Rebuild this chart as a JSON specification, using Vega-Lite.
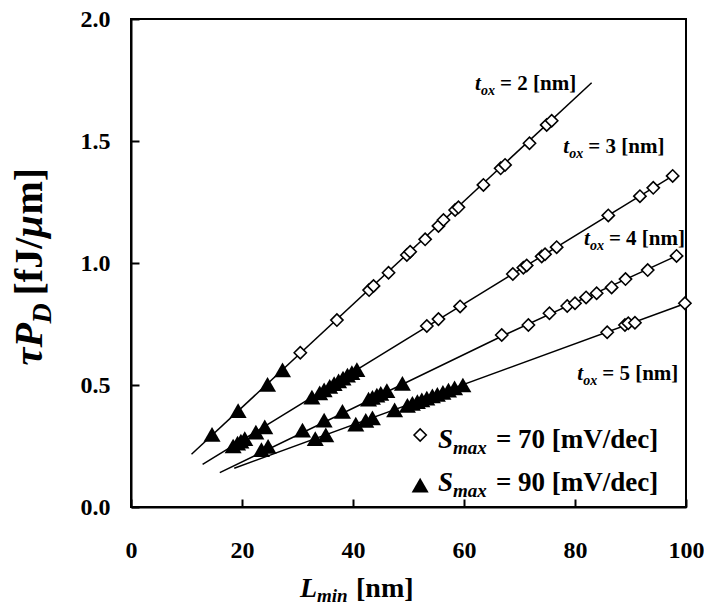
{
  "$schema": "https://vega.github.io/schema/vega-lite/v6.json",
  "width": 555,
  "height": 488,
  "autosize": {"type": "none"},
  "padding": {"left": 131, "top": 19, "right": 18, "bottom": 106},
  "background": "white",
  "config": {"view": {"stroke": "black", "strokeWidth": 2}, "font": "Liberation Serif"},
  "datasets": {
    "points": [
      {"tox": 2, "S": 70, "L": 30.5, "E": 0.632}, {"tox": 2, "S": 70, "L": 37.1, "E": 0.766},
      {"tox": 2, "S": 70, "L": 42.9, "E": 0.889}, {"tox": 2, "S": 70, "L": 43.7, "E": 0.906},
      {"tox": 2, "S": 70, "L": 46.4, "E": 0.960}, {"tox": 2, "S": 70, "L": 49.7, "E": 1.033},
      {"tox": 2, "S": 70, "L": 50.3, "E": 1.046}, {"tox": 2, "S": 70, "L": 53.0, "E": 1.097},
      {"tox": 2, "S": 70, "L": 55.4, "E": 1.152}, {"tox": 2, "S": 70, "L": 56.3, "E": 1.176},
      {"tox": 2, "S": 70, "L": 58.4, "E": 1.217}, {"tox": 2, "S": 70, "L": 59.0, "E": 1.228},
      {"tox": 2, "S": 70, "L": 63.5, "E": 1.320}, {"tox": 2, "S": 70, "L": 66.6, "E": 1.388},
      {"tox": 2, "S": 70, "L": 67.4, "E": 1.402}, {"tox": 2, "S": 70, "L": 71.8, "E": 1.491},
      {"tox": 2, "S": 70, "L": 74.9, "E": 1.566}, {"tox": 2, "S": 70, "L": 75.8, "E": 1.583},
      {"tox": 2, "S": 90, "L": 14.6, "E": 0.298}, {"tox": 2, "S": 90, "L": 19.3, "E": 0.395},
      {"tox": 2, "S": 90, "L": 24.6, "E": 0.503}, {"tox": 2, "S": 90, "L": 27.3, "E": 0.562},
      {"tox": 3, "S": 90, "L": 18.4, "E": 0.250}, {"tox": 3, "S": 90, "L": 19.2, "E": 0.262},
      {"tox": 3, "S": 90, "L": 19.8, "E": 0.270}, {"tox": 3, "S": 90, "L": 20.5, "E": 0.280},
      {"tox": 3, "S": 90, "L": 22.5, "E": 0.307}, {"tox": 3, "S": 90, "L": 24.1, "E": 0.328},
      {"tox": 3, "S": 90, "L": 32.6, "E": 0.450}, {"tox": 3, "S": 90, "L": 34.0, "E": 0.468},
      {"tox": 3, "S": 90, "L": 34.8, "E": 0.480}, {"tox": 3, "S": 90, "L": 35.8, "E": 0.494},
      {"tox": 3, "S": 90, "L": 36.6, "E": 0.506}, {"tox": 3, "S": 90, "L": 37.4, "E": 0.517},
      {"tox": 3, "S": 90, "L": 38.2, "E": 0.528}, {"tox": 3, "S": 90, "L": 39.0, "E": 0.540},
      {"tox": 3, "S": 90, "L": 39.8, "E": 0.551}, {"tox": 3, "S": 90, "L": 40.7, "E": 0.563},
      {"tox": 3, "S": 70, "L": 53.3, "E": 0.742}, {"tox": 3, "S": 70, "L": 55.4, "E": 0.770},
      {"tox": 3, "S": 70, "L": 59.3, "E": 0.822}, {"tox": 3, "S": 70, "L": 68.8, "E": 0.955},
      {"tox": 3, "S": 70, "L": 70.7, "E": 0.981}, {"tox": 3, "S": 70, "L": 71.3, "E": 0.990},
      {"tox": 3, "S": 70, "L": 74.0, "E": 1.027}, {"tox": 3, "S": 70, "L": 74.6, "E": 1.036},
      {"tox": 3, "S": 70, "L": 76.7, "E": 1.065}, {"tox": 3, "S": 70, "L": 86.0, "E": 1.195},
      {"tox": 3, "S": 70, "L": 91.7, "E": 1.274}, {"tox": 3, "S": 70, "L": 94.1, "E": 1.308},
      {"tox": 3, "S": 70, "L": 97.6, "E": 1.357},
      {"tox": 4, "S": 90, "L": 23.5, "E": 0.235}, {"tox": 4, "S": 90, "L": 24.7, "E": 0.248},
      {"tox": 4, "S": 90, "L": 30.9, "E": 0.315}, {"tox": 4, "S": 90, "L": 34.8, "E": 0.356},
      {"tox": 4, "S": 90, "L": 38.1, "E": 0.392}, {"tox": 4, "S": 90, "L": 42.8, "E": 0.442},
      {"tox": 4, "S": 90, "L": 43.5, "E": 0.449}, {"tox": 4, "S": 90, "L": 44.3, "E": 0.458},
      {"tox": 4, "S": 90, "L": 45.0, "E": 0.466}, {"tox": 4, "S": 90, "L": 46.1, "E": 0.477},
      {"tox": 4, "S": 90, "L": 48.9, "E": 0.507},
      {"tox": 4, "S": 70, "L": 66.8, "E": 0.705}, {"tox": 4, "S": 70, "L": 71.6, "E": 0.746},
      {"tox": 4, "S": 70, "L": 75.4, "E": 0.794}, {"tox": 4, "S": 70, "L": 78.6, "E": 0.824},
      {"tox": 4, "S": 70, "L": 80.0, "E": 0.835}, {"tox": 4, "S": 70, "L": 82.0, "E": 0.859},
      {"tox": 4, "S": 70, "L": 83.9, "E": 0.876}, {"tox": 4, "S": 70, "L": 86.6, "E": 0.900},
      {"tox": 4, "S": 70, "L": 89.1, "E": 0.934}, {"tox": 4, "S": 70, "L": 93.1, "E": 0.971},
      {"tox": 4, "S": 70, "L": 98.3, "E": 1.029},
      {"tox": 5, "S": 90, "L": 33.2, "E": 0.280}, {"tox": 5, "S": 90, "L": 35.1, "E": 0.296},
      {"tox": 5, "S": 90, "L": 40.5, "E": 0.340}, {"tox": 5, "S": 90, "L": 42.3, "E": 0.355},
      {"tox": 5, "S": 90, "L": 43.5, "E": 0.365}, {"tox": 5, "S": 90, "L": 47.5, "E": 0.398},
      {"tox": 5, "S": 90, "L": 49.8, "E": 0.417}, {"tox": 5, "S": 90, "L": 50.7, "E": 0.425},
      {"tox": 5, "S": 90, "L": 51.6, "E": 0.432}, {"tox": 5, "S": 90, "L": 52.4, "E": 0.439},
      {"tox": 5, "S": 90, "L": 53.3, "E": 0.446}, {"tox": 5, "S": 90, "L": 54.3, "E": 0.455},
      {"tox": 5, "S": 90, "L": 55.2, "E": 0.462}, {"tox": 5, "S": 90, "L": 56.2, "E": 0.470},
      {"tox": 5, "S": 90, "L": 57.2, "E": 0.479}, {"tox": 5, "S": 90, "L": 58.3, "E": 0.488},
      {"tox": 5, "S": 90, "L": 59.8, "E": 0.500},
      {"tox": 5, "S": 70, "L": 85.8, "E": 0.716}, {"tox": 5, "S": 70, "L": 89.0, "E": 0.746},
      {"tox": 5, "S": 70, "L": 89.6, "E": 0.753}, {"tox": 5, "S": 70, "L": 90.8, "E": 0.755},
      {"tox": 5, "S": 70, "L": 99.8, "E": 0.835}
    ],
    "fits": [
      {"tox": 2, "L": 10.9, "E": 0.216}, {"tox": 2, "L": 83.0, "E": 1.739},
      {"tox": 3, "L": 12.9, "E": 0.175}, {"tox": 3, "L": 97.6, "E": 1.357},
      {"tox": 4, "L": 16.0, "E": 0.141}, {"tox": 4, "L": 66.8, "E": 0.700}, {"tox": 4, "L": 98.3, "E": 1.029},
      {"tox": 5, "L": 18.6, "E": 0.159}, {"tox": 5, "L": 100, "E": 0.835}
    ]
  },
  "layer": [
    {
      "data": {"name": "fits"},
      "mark": {"type": "line", "color": "black", "strokeWidth": 1.5},
      "encoding": {
        "x": {"field": "L", "type": "quantitative", "scale": {"domain": [0, 100], "nice": false, "zero": false},
          "axis": {"title": null, "values": [0, 20, 40, 60, 80, 100], "grid": false, "domainColor": "black", "domainWidth": 2,
            "tickSize": -8, "tickColor": "black", "tickWidth": 2, "labelFont": "Liberation Serif", "labelFontWeight": "bold",
            "labelFontSize": 24, "labelColor": "black", "labelPadding": 39, "labelFlush": false}},
        "y": {"field": "E", "type": "quantitative", "scale": {"domain": [0, 2], "nice": false, "zero": false},
          "axis": {"title": null, "values": [0, 0.5, 1, 1.5, 2], "format": ".1f", "grid": false, "domainColor": "black", "domainWidth": 2,
            "tickSize": -8, "tickColor": "black", "tickWidth": 2, "labelFont": "Liberation Serif", "labelFontWeight": "bold",
            "labelFontSize": 24, "labelColor": "black", "labelPadding": 29, "labelFlush": false}},
        "detail": {"field": "tox", "type": "nominal"}
      }
    },
    {
      "data": {"name": "points"},
      "transform": [{"filter": "datum.S == 70"}],
      "mark": {"type": "point", "shape": "diamond", "filled": true, "fill": "white", "stroke": "black", "strokeWidth": 1.6, "size": 150, "opacity": 1},
      "encoding": {
        "x": {"field": "L", "type": "quantitative", "scale": {"domain": [0, 100], "nice": false, "zero": false}},
        "y": {"field": "E", "type": "quantitative", "scale": {"domain": [0, 2], "nice": false, "zero": false}}
      }
    },
    {
      "data": {"name": "points"},
      "transform": [{"filter": "datum.S == 90"}],
      "mark": {"type": "point", "shape": "triangle-up", "filled": true, "color": "black", "size": 290, "opacity": 1},
      "encoding": {
        "x": {"field": "L", "type": "quantitative", "scale": {"domain": [0, 100], "nice": false, "zero": false}},
        "y": {"field": "E", "type": "quantitative", "scale": {"domain": [0, 2], "nice": false, "zero": false}}
      }
    },
    {"data": {"values": [{}]}, "mark": {"type": "text", "text": "t", "fontStyle": "italic", "fontWeight": "bold", "fontSize": 21, "align": "left", "baseline": "alphabetic", "color": "black"},
     "encoding": {"x": {"datum": 62.0, "type": "quantitative"}, "y": {"datum": 1.709, "type": "quantitative"}}},
    {"data": {"values": [{}]}, "mark": {"type": "text", "text": "ox", "fontStyle": "italic", "fontWeight": "bold", "fontSize": 14, "align": "left", "baseline": "alphabetic", "dx": 6, "dy": 5, "color": "black"},
     "encoding": {"x": {"datum": 62.0, "type": "quantitative"}, "y": {"datum": 1.709, "type": "quantitative"}}},
    {"data": {"values": [{}]}, "mark": {"type": "text", "text": "= 2 [nm]", "fontWeight": "bold", "fontSize": 21, "align": "left", "baseline": "alphabetic", "dx": 25, "color": "black"},
     "encoding": {"x": {"datum": 62.0, "type": "quantitative"}, "y": {"datum": 1.709, "type": "quantitative"}}},
    {"data": {"values": [{}]}, "mark": {"type": "text", "text": "t", "fontStyle": "italic", "fontWeight": "bold", "fontSize": 21, "align": "left", "baseline": "alphabetic", "color": "black"},
     "encoding": {"x": {"datum": 77.9, "type": "quantitative"}, "y": {"datum": 1.45, "type": "quantitative"}}},
    {"data": {"values": [{}]}, "mark": {"type": "text", "text": "ox", "fontStyle": "italic", "fontWeight": "bold", "fontSize": 14, "align": "left", "baseline": "alphabetic", "dx": 6, "dy": 5, "color": "black"},
     "encoding": {"x": {"datum": 77.9, "type": "quantitative"}, "y": {"datum": 1.45, "type": "quantitative"}}},
    {"data": {"values": [{}]}, "mark": {"type": "text", "text": "= 3 [nm]", "fontWeight": "bold", "fontSize": 21, "align": "left", "baseline": "alphabetic", "dx": 25, "color": "black"},
     "encoding": {"x": {"datum": 77.9, "type": "quantitative"}, "y": {"datum": 1.45, "type": "quantitative"}}},
    {"data": {"values": [{}]}, "mark": {"type": "text", "text": "t", "fontStyle": "italic", "fontWeight": "bold", "fontSize": 21, "align": "left", "baseline": "alphabetic", "color": "black"},
     "encoding": {"x": {"datum": 81.6, "type": "quantitative"}, "y": {"datum": 1.074, "type": "quantitative"}}},
    {"data": {"values": [{}]}, "mark": {"type": "text", "text": "ox", "fontStyle": "italic", "fontWeight": "bold", "fontSize": 14, "align": "left", "baseline": "alphabetic", "dx": 6, "dy": 5, "color": "black"},
     "encoding": {"x": {"datum": 81.6, "type": "quantitative"}, "y": {"datum": 1.074, "type": "quantitative"}}},
    {"data": {"values": [{}]}, "mark": {"type": "text", "text": "= 4 [nm]", "fontWeight": "bold", "fontSize": 21, "align": "left", "baseline": "alphabetic", "dx": 25, "color": "black"},
     "encoding": {"x": {"datum": 81.6, "type": "quantitative"}, "y": {"datum": 1.074, "type": "quantitative"}}},
    {"data": {"values": [{}]}, "mark": {"type": "text", "text": "t", "fontStyle": "italic", "fontWeight": "bold", "fontSize": 21, "align": "left", "baseline": "alphabetic", "color": "black"},
     "encoding": {"x": {"datum": 80.4, "type": "quantitative"}, "y": {"datum": 0.52, "type": "quantitative"}}},
    {"data": {"values": [{}]}, "mark": {"type": "text", "text": "ox", "fontStyle": "italic", "fontWeight": "bold", "fontSize": 14, "align": "left", "baseline": "alphabetic", "dx": 6, "dy": 5, "color": "black"},
     "encoding": {"x": {"datum": 80.4, "type": "quantitative"}, "y": {"datum": 0.52, "type": "quantitative"}}},
    {"data": {"values": [{}]}, "mark": {"type": "text", "text": "= 5 [nm]", "fontWeight": "bold", "fontSize": 21, "align": "left", "baseline": "alphabetic", "dx": 25, "color": "black"},
     "encoding": {"x": {"datum": 80.4, "type": "quantitative"}, "y": {"datum": 0.52, "type": "quantitative"}}},
    {"data": {"values": [{}]}, "mark": {"type": "point", "shape": "diamond", "filled": true, "fill": "white", "stroke": "black", "strokeWidth": 1.6, "size": 150, "opacity": 1},
     "encoding": {"x": {"datum": 52.1, "type": "quantitative"}, "y": {"datum": 0.295, "type": "quantitative"}}},
    {"data": {"values": [{}]}, "mark": {"type": "point", "shape": "triangle-up", "filled": true, "color": "black", "size": 290, "opacity": 1},
     "encoding": {"x": {"datum": 52.1, "type": "quantitative"}, "y": {"datum": 0.09, "type": "quantitative"}}},
    {"data": {"values": [{}]}, "mark": {"type": "text", "text": "S", "fontStyle": "italic", "fontWeight": "bold", "fontSize": 27, "align": "left", "baseline": "alphabetic", "color": "black"},
     "encoding": {"x": {"datum": 55.3, "type": "quantitative"}, "y": {"datum": 0.242, "type": "quantitative"}}},
    {"data": {"values": [{}]}, "mark": {"type": "text", "text": "max", "fontStyle": "italic", "fontWeight": "bold", "fontSize": 19, "align": "left", "baseline": "alphabetic", "dx": 15, "dy": 6, "color": "black"},
     "encoding": {"x": {"datum": 55.3, "type": "quantitative"}, "y": {"datum": 0.242, "type": "quantitative"}}},
    {"data": {"values": [{}]}, "mark": {"type": "text", "text": "= 70 [mV/dec]", "fontWeight": "bold", "fontSize": 27, "align": "left", "baseline": "alphabetic", "dx": 58, "color": "black"},
     "encoding": {"x": {"datum": 55.3, "type": "quantitative"}, "y": {"datum": 0.242, "type": "quantitative"}}},
    {"data": {"values": [{}]}, "mark": {"type": "text", "text": "S", "fontStyle": "italic", "fontWeight": "bold", "fontSize": 27, "align": "left", "baseline": "alphabetic", "color": "black"},
     "encoding": {"x": {"datum": 55.3, "type": "quantitative"}, "y": {"datum": 0.067, "type": "quantitative"}}},
    {"data": {"values": [{}]}, "mark": {"type": "text", "text": "max", "fontStyle": "italic", "fontWeight": "bold", "fontSize": 19, "align": "left", "baseline": "alphabetic", "dx": 15, "dy": 6, "color": "black"},
     "encoding": {"x": {"datum": 55.3, "type": "quantitative"}, "y": {"datum": 0.067, "type": "quantitative"}}},
    {"data": {"values": [{}]}, "mark": {"type": "text", "text": "= 90 [mV/dec]", "fontWeight": "bold", "fontSize": 27, "align": "left", "baseline": "alphabetic", "dx": 58, "color": "black"},
     "encoding": {"x": {"datum": 55.3, "type": "quantitative"}, "y": {"datum": 0.067, "type": "quantitative"}}},
    {"data": {"values": [{}]}, "mark": {"type": "text", "text": "L", "fontStyle": "italic", "fontWeight": "bold", "fontSize": 28, "align": "left", "baseline": "alphabetic", "color": "black"},
     "encoding": {"x": {"datum": 30.45, "type": "quantitative"}, "y": {"datum": -0.37, "type": "quantitative"}}},
    {"data": {"values": [{}]}, "mark": {"type": "text", "text": "min", "fontStyle": "italic", "fontWeight": "bold", "fontSize": 19, "align": "left", "baseline": "alphabetic", "dx": 17, "dy": 5, "color": "black"},
     "encoding": {"x": {"datum": 30.45, "type": "quantitative"}, "y": {"datum": -0.37, "type": "quantitative"}}},
    {"data": {"values": [{}]}, "mark": {"type": "text", "text": "[nm]", "fontWeight": "bold", "fontSize": 28, "align": "left", "baseline": "alphabetic", "dx": 56, "color": "black"},
     "encoding": {"x": {"datum": 30.45, "type": "quantitative"}, "y": {"datum": -0.37, "type": "quantitative"}}},
    {"data": {"values": [{}]}, "mark": {"type": "text", "text": "τ", "angle": 270, "fontStyle": "italic", "fontWeight": "bold", "fontSize": 40, "align": "left", "baseline": "alphabetic", "color": "black"},
     "encoding": {"x": {"datum": -16.0, "type": "quantitative"}, "y": {"datum": 0.58, "type": "quantitative"}}},
    {"data": {"values": [{}]}, "mark": {"type": "text", "text": "P", "angle": 270, "fontStyle": "italic", "fontWeight": "bold", "fontSize": 40, "align": "left", "baseline": "alphabetic", "dx": 18, "color": "black"},
     "encoding": {"x": {"datum": -16.0, "type": "quantitative"}, "y": {"datum": 0.58, "type": "quantitative"}}},
    {"data": {"values": [{}]}, "mark": {"type": "text", "text": "D", "angle": 270, "fontStyle": "italic", "fontWeight": "bold", "fontSize": 28, "align": "left", "baseline": "alphabetic", "dx": 42, "dy": 9, "color": "black"},
     "encoding": {"x": {"datum": -16.0, "type": "quantitative"}, "y": {"datum": 0.58, "type": "quantitative"}}},
    {"data": {"values": [{}]}, "mark": {"type": "text", "text": "[fJ/", "angle": 270, "fontWeight": "bold", "fontSize": 40, "align": "left", "baseline": "alphabetic", "dx": 70, "color": "black"},
     "encoding": {"x": {"datum": -16.0, "type": "quantitative"}, "y": {"datum": 0.58, "type": "quantitative"}}},
    {"data": {"values": [{}]}, "mark": {"type": "text", "text": "μ", "angle": 270, "fontStyle": "italic", "fontWeight": "bold", "fontSize": 40, "align": "left", "baseline": "alphabetic", "dx": 128, "color": "black"},
     "encoding": {"x": {"datum": -16.0, "type": "quantitative"}, "y": {"datum": 0.58, "type": "quantitative"}}},
    {"data": {"values": [{}]}, "mark": {"type": "text", "text": "m]", "angle": 270, "fontWeight": "bold", "fontSize": 40, "align": "left", "baseline": "alphabetic", "dx": 151, "color": "black"},
     "encoding": {"x": {"datum": -16.0, "type": "quantitative"}, "y": {"datum": 0.58, "type": "quantitative"}}}
  ]
}
